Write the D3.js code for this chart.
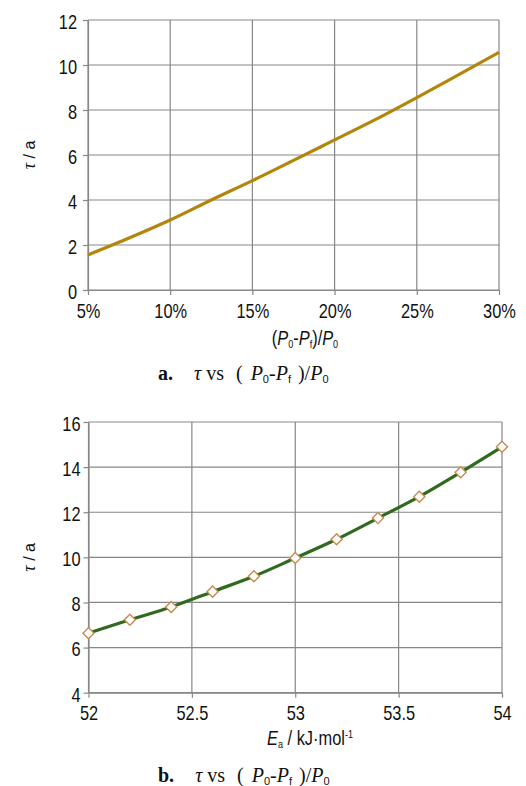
<!DOCTYPE html>
<html>
<head>
<meta charset="utf-8">
<script src="https://cdn.jsdelivr.net/npm/d3@7"></script>
<style>
  body { margin: 0; background: #fff; }
  svg { display: block; }
</style>
</head>
<body>
<div id="chart"></div>
<script>
// chart a: tau vs (P0-Pf)/P0
const ratioTicks = [0.05, 0.10, 0.15, 0.20, 0.25, 0.30];
const ratioX = [0.05, 0.075, 0.10, 0.125, 0.15, 0.175, 0.20, 0.225, 0.25, 0.275, 0.30];
const tauA = [1.56, 2.31, 3.11, 4.0, 4.86, 5.76, 6.67, 7.58, 8.55, 9.55, 10.56];
const tauTicksA = [0, 2, 4, 6, 8, 10, 12];

// chart b: tau vs Ea
const eaTicks = [52, 52.5, 53, 53.5, 54];
const eaX = [52, 52.2, 52.4, 52.6, 52.8, 53, 53.2, 53.4, 53.6, 53.8, 54];
const tauB = [6.64, 7.23, 7.80, 8.48, 9.16, 9.97, 10.8, 11.74, 12.69, 13.77, 14.9];
const tauTicksB = [4, 6, 8, 10, 12, 14, 16];

const W = 526, H = 786;
const sans = "'Liberation Sans', Arial, sans-serif";
const serif = "'Liberation Serif', 'Times New Roman', serif";
const gridColor = "#878787";
const squeeze = 0.82; // the original uses a condensed face

const svg = d3.select("#chart").append("svg")
  .attr("width", W).attr("height", H);

function drawPanel(opt) {
  const x = opt.x, y = opt.y;
  const g = svg.append("g");
  const [x0, x1] = x.range();
  const [y0, y1] = y.range();

  // grid
  g.append("g").selectAll("line").data(opt.yTicks).join("line")
    .attr("x1", x0).attr("x2", x1)
    .attr("y1", d => y(d)).attr("y2", d => y(d))
    .attr("stroke", gridColor).attr("stroke-width", 1.2);
  g.append("g").selectAll("line").data(opt.xTicks).join("line")
    .attr("x1", d => x(d)).attr("x2", d => x(d))
    .attr("y1", y0).attr("y2", y1)
    .attr("stroke", gridColor).attr("stroke-width", 1.2);

  // axes
  const ax = g.append("g")
    .attr("transform", `translate(0,${y0})`)
    .call(d3.axisBottom(x).tickValues(opt.xTicks).tickFormat(opt.xFormat)
      .tickSize(5).tickPadding(opt.xPad).tickSizeOuter(0));
  const ay = g.append("g")
    .attr("transform", `translate(${x0},0)`)
    .call(d3.axisLeft(y).tickValues(opt.yTicks).tickFormat(d3.format("d"))
      .tickSize(5).tickPadding(opt.yPad).tickSizeOuter(0));
  [ax, ay].forEach(a => {
    a.select(".domain").attr("stroke", gridColor).attr("stroke-width", 1.2);
    a.selectAll(".tick line").attr("stroke", gridColor).attr("stroke-width", 1.2);
    a.selectAll("text").attr("font-family", sans).attr("font-size", opt.fs).attr("fill", "#111")
      .attr("transform", `scale(${squeeze},1)`);
  });
  ay.selectAll("text").attr("dy", "0.42em")
    .attr("x", -(5 + opt.yPad) / squeeze);

  // line
  const pts = opt.xs.map((v, i) => [x(v), y(opt.ys[i])]);
  g.append("path")
    .attr("d", d3.line().curve(d3.curveMonotoneX)(pts))
    .attr("fill", "none")
    .attr("stroke", opt.color)
    .attr("stroke-width", 3.2)
    .attr("stroke-linejoin", "round");

  if (opt.markers) {
    g.append("g").selectAll("path").data(pts).join("path")
      .attr("transform", d => `translate(${d[0]},${d[1]})`)
      .attr("d", d3.symbol().type(d3.symbolDiamond2).size(78))
      .attr("fill", "#fff")
      .attr("stroke", "#c98a4e")
      .attr("stroke-width", 1.4);
  }

  // y title
  const yt = g.append("text")
    .attr("transform", `translate(${opt.yTitleX},${(y0 + y1) / 2}) rotate(-90)`)
    .attr("text-anchor", "middle")
    .attr("font-family", sans)
    .attr("font-size", 16).attr("fill", "#111");
  yt.append("tspan").attr("font-style", "italic").attr("font-family", serif).attr("font-size", 18).text("τ");
  yt.append("tspan").text(" / a");
  return g;
}

// panel a
const xA = d3.scaleLinear().domain([0.05, 0.30]).range([88, 499]);
const yA = d3.scaleLinear().domain([0, 12]).range([290, 20]);
drawPanel({
  x: xA, y: yA, xTicks: ratioTicks, yTicks: tauTicksA,
  xFormat: d3.format(".0%"), xs: ratioX, ys: tauA,
  color: "#b3850b", markers: false, fs: 20, xPad: 9, yPad: 6, yTitleX: 35
});

// panel b
const xB = d3.scaleLinear().domain([52, 54]).range([88.5, 502]);
const yB = d3.scaleLinear().domain([4, 16]).range([692.7, 422]);
drawPanel({
  x: xB, y: yB, xTicks: eaTicks, yTicks: tauTicksB,
  xFormat: d => d3.format("")(d), xs: eaX, ys: tauB,
  color: "#2f6a1e", markers: true, fs: 20, xPad: 8, yPad: 3, yTitleX: 35
});

// rich text helper: italic letters, sub- and superscripts
function pText(parent, parts, fs, subFont) {
  parts.forEach(p => {
    const t = parent.append("tspan").text(p.t);
    if (p.it) t.attr("font-style", "italic");
    if (p.dx) t.attr("dx", p.dx);
    if (p.sub || p.sup) {
      t.attr("font-size", fs * 0.55).attr("baseline-shift", p.sub ? "-28%" : "65%");
      if (subFont) t.attr("font-family", subFont);
    }
  });
}

const tA = svg.append("text")
  .attr("transform", `translate(305,345) scale(${squeeze},1)`)
  .attr("text-anchor", "middle")
  .attr("font-family", sans).attr("font-size", 20).attr("fill", "#111");
pText(tA, [{t: "("}, {t: "P", it: 1}, {t: "0", sub: 1}, {t: "-"}, {t: "P", it: 1},
  {t: "f", sub: 1}, {t: ")/"}, {t: "P", it: 1}, {t: "0", sub: 1}], 20);

const tB = svg.append("text")
  .attr("transform", `translate(310,745) scale(${squeeze},1)`)
  .attr("text-anchor", "middle")
  .attr("font-family", sans).attr("font-size", 20).attr("fill", "#111");
pText(tB, [{t: "E", it: 1}, {t: "a", sub: 1}, {t: " / kJ·mol"}, {t: "-1", sup: 1}], 20);

// captions
function caption(label, yPos) {
  const c = svg.append("text")
    .attr("x", 158).attr("y", yPos)
    .attr("font-family", serif).attr("font-size", 20).attr("fill", "#111");
  c.append("tspan").attr("font-weight", "bold").text(label);
  c.append("tspan").attr("dx", 21).attr("font-style", "italic").text("τ");
  c.append("tspan").attr("dx", 5).text("vs");
  c.append("tspan").attr("dx", 12).text("(");
  pText(c, [{t: "P", it: 1, dx: 8}, {t: "0", sub: 1}, {t: "-"}, {t: "P", it: 1}, {t: "f", sub: 1}], 20, sans);
  c.append("tspan").attr("dx", 7).text(")/");
  pText(c, [{t: "P", it: 1}, {t: "0", sub: 1}], 20, sans);
}
caption("a.", 380);
caption("b.", 782);
</script>
</body>
</html>
